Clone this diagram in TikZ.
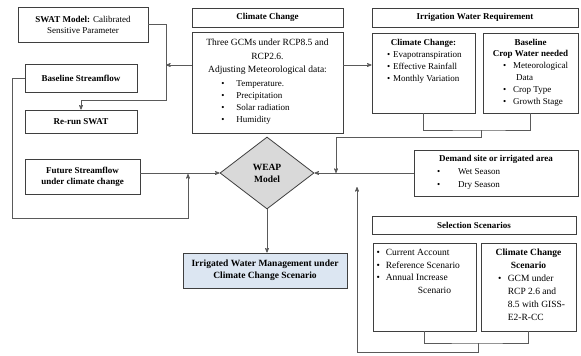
\documentclass[tikz,border=0pt]{standalone}
\usepackage{fontspec}
\setmainfont{Liberation Serif}
\usetikzlibrary{%
  arrows,%
  shapes.geometric,% wg. diamond
  positioning,% wg. " of "
  calc%
}
\definecolor{boxline}{HTML}{3F3F3F}
\definecolor{wireline}{HTML}{5A5A5A}
\definecolor{weapgray}{HTML}{D9D9D9}
\definecolor{resultblue}{HTML}{DCE6F2}
\newcommand{\listfont}{\fontsize{9}{12}\selectfont}
\newcommand{\sellistfont}{\fontsize{9.5}{12.5}\selectfont}

\begin{document}
\begin{tikzpicture}[
  x=1pt, y=-1pt,
  font=\fontsize{9}{11}\selectfont,
  >=stealth',
  line width=0.8pt,
  plainbox/.style={draw=boxline, rectangle, inner sep=2pt, align=center},
  boldbox/.style={plainbox, font=\fontsize{9}{11}\selectfont\bfseries},
  wire/.style={draw=wireline, line width=0.7pt},
]
\useasboundingbox (0,0) rectangle (581,356);

% left column: SWAT
\node[plainbox, minimum width=130pt, minimum height=35pt] (swat) at (83,24.5)
  {\textbf{SWAT Model:} Calibrated\\Sensitive Parameter};
\node[boldbox, minimum width=112pt, minimum height=28pt] (basesf) at (81,78)
  {Baseline Streamflow};
\node[boldbox, minimum width=112pt, minimum height=23pt] (rerun) at (81,121.5)
  {Re-run SWAT};
\node[boldbox, minimum width=115pt, minimum height=35pt] (futsf) at (82.5,176.5)
  {Future Streamflow\\under climate change};

% climate change
\node[boldbox, minimum width=151pt, minimum height=19pt] (cchead) at (267.5,17.5)
  {Climate Change};
\node[plainbox, minimum width=151pt, minimum height=101pt,
  font=\fontsize{9.5}{13.5}\selectfont] (ccbody) at (267.5,82.5)
  {Three GCMs under RCP8.5 and\\RCP2.6.\\Adjusting Meteorological data:\\
   {\listfont\begin{tabular}[t]{@{}l@{\hspace{12pt}}l@{\hspace{24pt}}}
   \textbullet & Temperature.\\
   \textbullet & Precipitation\\
   \textbullet & Solar radiation\\
   \textbullet & Humidity
   \end{tabular}}};

% irrigation water requirement
\node[boldbox, minimum width=206pt, minimum height=19pt] (irhead) at (475,17.5)
  {Irrigation Water Requirement};
\node[plainbox, minimum width=103pt, minimum height=80pt] (irclim) at (423.5,73)
  {\parbox[t][75pt][t]{98pt}{\centering\rule{0pt}{10pt}\textbf{Climate Change:}\par
   \raggedright\listfont\hspace*{12.5pt}%
   \begin{tabular}[t]{@{}l@{\hspace{3pt}}l@{}}
   \textbullet & Evapotranspiration\\
   \textbullet & Effective Rainfall\\
   \textbullet & Monthly Variation
   \end{tabular}}};
\node[plainbox, minimum width=95pt, minimum height=80pt] (irbase) at (530.5,73)
  {\parbox[t][75pt][t]{90pt}{\centering\rule{0pt}{10pt}\textbf{Baseline}\\
   \textbf{Crop Water needed}\par
   \raggedright\listfont\hspace*{17.5pt}%
   \begin{tabular}[t]{@{}l@{\hspace{7pt}}l@{}}
   \textbullet & Meteorological\\
               & \hspace{3pt}Data\\
   \textbullet & Crop Type\\
   \textbullet & Growth Stage
   \end{tabular}}};

% demand and WEAP
\node[plainbox, minimum width=164pt, minimum height=46pt] (demand) at (496,173)
  {\parbox[t][41pt][t]{159pt}{\centering\rule{0pt}{9pt}%
   \textbf{Demand site or irrigated area}\par
   \raggedright\fontsize{9}{13}\selectfont\hspace*{20.5pt}%
   \begin{tabular}[t]{@{}l@{\hspace{18pt}}l@{}}
   \textbullet & Wet Season\\
   \textbullet & Dry Season
   \end{tabular}}};
\node[diamond, draw=boxline, fill=weapgray, minimum width=94pt, minimum height=72pt,
  inner sep=0pt, align=center, font=\fontsize{9.5}{12}\selectfont\bfseries]
  (weap) at (267,173) {WEAP\\Model};
\node[boldbox, fill=resultblue, minimum width=164pt, minimum height=35pt,
  font=\fontsize{9.5}{12}\selectfont\bfseries] (irrig) at (265,270.5)
  {Irrigated Water Management under\\Climate Change Scenario};

% selection scenarios
\node[boldbox, minimum width=204pt, minimum height=18pt] (selhead) at (474,225)
  {Selection Scenarios};
\node[plainbox, minimum width=103pt, minimum height=88pt] (selleft) at (424.5,287)
  {\parbox[t][83pt][t]{98pt}{\raggedright\sellistfont\rule{0pt}{10pt}\hspace*{1pt}%
   \begin{tabular}[t]{@{}l@{\hspace{6pt}}l@{}}
   \textbullet & Current Account\\
   \textbullet & Reference Scenario\\
   \textbullet & Annual Increase\\
               & \hspace{32pt}Scenario
   \end{tabular}}};
\node[plainbox, minimum width=95pt, minimum height=88pt,
  font=\fontsize{9.5}{13}\selectfont] (selright) at (528.5,287)
  {\parbox[t][83pt][t]{90pt}{\centering\rule{0pt}{10pt}\textbf{Climate Change}\\
   \textbf{Scenario}\par
   \raggedright\hspace*{14.5pt}%
   \begin{tabular}[t]{@{}l@{\hspace{6.5pt}}l@{}}
   \textbullet & GCM under\\
               & RCP 2.6 and\\
               & 8.5 with GISS-\\
               & E2-R-CC
   \end{tabular}}};

% connectors
\coordinate (swatbend) at (166,100);
\coordinate (ccarrow) at (166,65);
\draw[wire,->] (swat.east) -| (swatbend) -| (rerun.north);
\draw[wire,->] (ccbody.west |- ccarrow) -- (ccarrow);
\draw[wire,->] (ccbody.east |- ccarrow) -- (irclim.west |- ccarrow);

\coordinate (irjoin) at (481,130);
\coordinate (irdrop) at (336,173);
\draw[wire] (irclim.south) |- (irjoin) -| (irbase.south);
\draw[wire,->] (irjoin) -- ++(0,7) -| (irdrop);
\draw[wire,->] (demand.west) -- (weap.east);

\coordinate (baseloop) at (12,218);
\coordinate (baseup) at (188,174);
\draw[wire,->] (basesf.west) -| (baseloop) -| (baseup);
\draw[wire,->] (futsf.east |- weap.west) -- (weap.west);
\draw[wire,->] (weap.south) -- (weap.south |- irrig.north);

\coordinate (seljoin) at (478,343);
\coordinate (selup) at (357,187);
\draw[wire] (selleft.south) |- (seljoin) -| (selright.south);
\draw[wire,->] (seljoin) -- ++(0,9) -| (selup);

\end{tikzpicture}
\end{document}
